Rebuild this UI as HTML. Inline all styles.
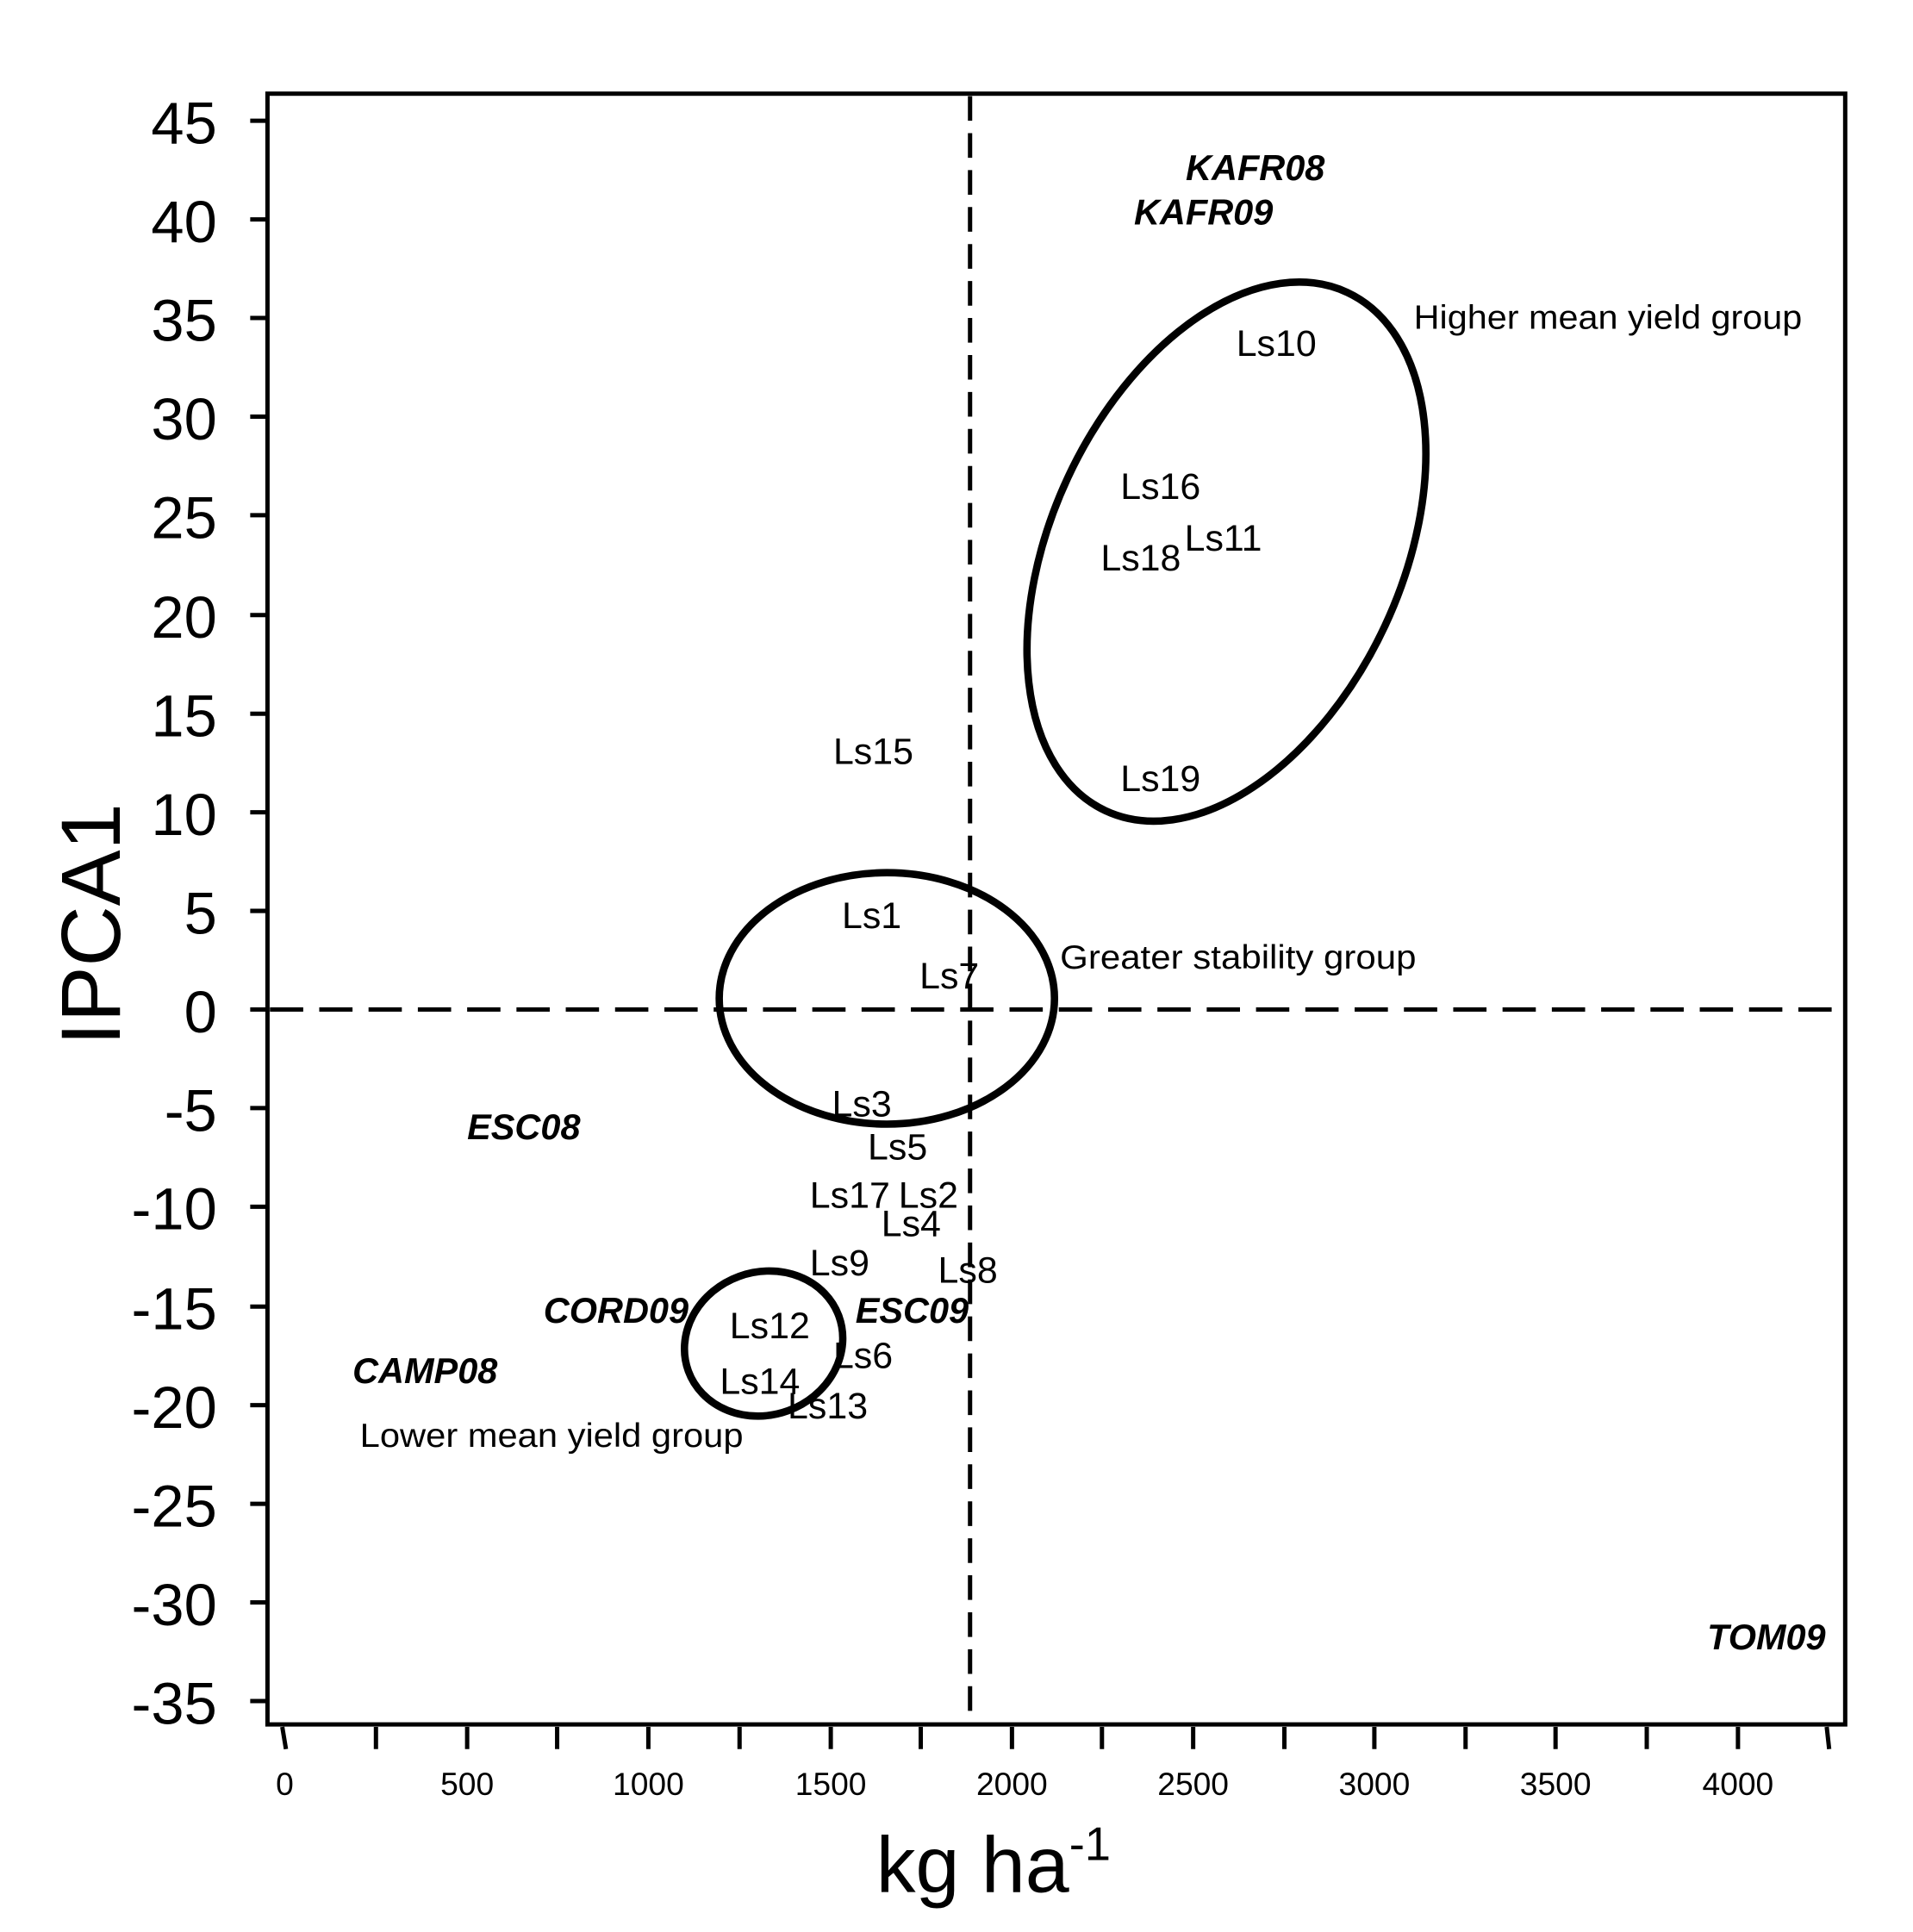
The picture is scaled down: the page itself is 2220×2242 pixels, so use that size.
<!DOCTYPE html>
<html><head><meta charset="utf-8"><style>html,body{margin:0;padding:0;background:#fff}svg{display:block}</style></head>
<body>
<svg width="2220" height="2242" viewBox="0 0 1552 1567.4" preserveAspectRatio="none" xmlns="http://www.w3.org/2000/svg" font-family="Liberation Sans, Arial, sans-serif">
<rect x="0" y="0" width="1552" height="1568" fill="#fff"/>
<rect x="217" y="76" width="1280" height="1323" fill="none" stroke="#000" stroke-width="3.5"/>
<g stroke="#000" stroke-width="3.5">
<line x1="203" y1="98" x2="217" y2="98"/><line x1="203" y1="178" x2="217" y2="178"/>
<line x1="203" y1="258" x2="217" y2="258"/><line x1="203" y1="338" x2="217" y2="338"/>
<line x1="203" y1="418" x2="217" y2="418"/><line x1="203" y1="499" x2="217" y2="499"/>
<line x1="203" y1="579" x2="217" y2="579"/><line x1="203" y1="659" x2="217" y2="659"/>
<line x1="203" y1="739" x2="217" y2="739"/><line x1="203" y1="819" x2="217" y2="819"/>
<line x1="203" y1="899" x2="217" y2="899"/><line x1="203" y1="979" x2="217" y2="979"/>
<line x1="203" y1="1060" x2="217" y2="1060"/><line x1="203" y1="1140" x2="217" y2="1140"/>
<line x1="203" y1="1220" x2="217" y2="1220"/><line x1="203" y1="1300" x2="217" y2="1300"/>
<line x1="203" y1="1380" x2="217" y2="1380"/>
</g>
<g font-size="48" text-anchor="end" dominant-baseline="central">
<text x="176" y="100">45</text><text x="176" y="180">40</text><text x="176" y="260">35</text>
<text x="176" y="340">30</text><text x="176" y="420">25</text><text x="176" y="501">20</text>
<text x="176" y="581">15</text><text x="176" y="661">10</text><text x="176" y="741">5</text>
<text x="176" y="821">0</text><text x="176" y="901">-5</text><text x="176" y="981">-10</text>
<text x="176" y="1062">-15</text><text x="176" y="1142">-20</text><text x="176" y="1222">-25</text>
<text x="176" y="1302">-30</text><text x="176" y="1382">-35</text>
</g>
<g stroke="#000" stroke-width="3.5">
<line x1="229" y1="1401" x2="232" y2="1419"/>
<line x1="305" y1="1401" x2="305" y2="1419"/><line x1="379" y1="1401" x2="379" y2="1419"/>
<line x1="452" y1="1401" x2="452" y2="1419"/><line x1="526" y1="1401" x2="526" y2="1419"/>
<line x1="600" y1="1401" x2="600" y2="1419"/><line x1="674" y1="1401" x2="674" y2="1419"/>
<line x1="747" y1="1401" x2="747" y2="1419"/><line x1="821" y1="1401" x2="821" y2="1419"/>
<line x1="894" y1="1401" x2="894" y2="1419"/><line x1="968" y1="1401" x2="968" y2="1419"/>
<line x1="1042" y1="1401" x2="1042" y2="1419"/><line x1="1115" y1="1401" x2="1115" y2="1419"/>
<line x1="1189" y1="1401" x2="1189" y2="1419"/><line x1="1262" y1="1401" x2="1262" y2="1419"/>
<line x1="1336" y1="1401" x2="1336" y2="1419"/><line x1="1410" y1="1401" x2="1410" y2="1419"/>
<line x1="1482" y1="1401" x2="1484" y2="1419"/>
</g>
<g font-size="26" text-anchor="middle" dominant-baseline="central">
<text x="231" y="1447">0</text><text x="379" y="1447">500</text><text x="526" y="1447">1000</text>
<text x="674" y="1447">1500</text><text x="821" y="1447">2000</text><text x="968" y="1447">2500</text>
<text x="1115" y="1447">3000</text><text x="1262" y="1447">3500</text><text x="1410" y="1447">4000</text>
</g>
<text x="806" y="1535" font-size="64" text-anchor="middle">kg ha<tspan font-size="38" dy="-26">-1</tspan></text>
<text transform="translate(97,750) rotate(-90)" font-size="68" text-anchor="middle">IPCA1</text>
<line x1="787" y1="78" x2="787" y2="1398" stroke="#000" stroke-width="3.5" stroke-dasharray="20,10"/>
<line x1="219" y1="819" x2="1495" y2="819" stroke="#000" stroke-width="3.5" stroke-dasharray="27,13"/>
<g fill="none" stroke="#000" stroke-width="6">
<ellipse cx="0" cy="0" rx="142" ry="232" transform="translate(995,447.5) rotate(25)"/>
<ellipse cx="719.5" cy="810" rx="136" ry="102"/>
<ellipse cx="0" cy="0" rx="65" ry="58" transform="translate(619.5,1090) rotate(-20)"/>
</g>
<g font-size="30" dominant-baseline="central">
<text x="1003" y="279">Ls10</text><text x="909" y="395">Ls16</text><text x="961" y="437">Ls11</text>
<text x="893" y="453">Ls18</text><text x="676" y="610">Ls15</text><text x="909" y="632">Ls19</text>
<text x="683" y="743">Ls1</text><text x="746" y="792">Ls7</text><text x="675" y="896">Ls3</text>
<text x="704" y="931">Ls5</text><text x="657" y="970">Ls17</text><text x="729" y="970">Ls2</text>
<text x="715" y="993">Ls4</text><text x="657" y="1025">Ls9</text><text x="761" y="1031">Ls8</text>
<text x="592" y="1076">Ls12</text><text x="676" y="1100">Ls6</text><text x="584" y="1121">Ls14</text>
<text x="639" y="1141">Ls13</text>
</g>
<g font-size="29" font-weight="bold" font-style="italic" dominant-baseline="central">
<text x="962" y="136">KAFR08</text><text x="920" y="172">KAFR09</text>
<text x="379" y="914">ESC08</text><text x="441" y="1063">CORD09</text>
<text x="694" y="1063">ESC09</text><text x="286" y="1112">CAMP08</text>
<text x="1385" y="1328">TOM09</text>
</g>
<g font-size="27" dominant-baseline="central">
<text x="1147" y="258" textLength="315" lengthAdjust="spacingAndGlyphs">Higher mean  yield group</text>
<text x="860" y="777" textLength="289" lengthAdjust="spacingAndGlyphs">Greater stability group</text>
<text x="292" y="1165" textLength="311" lengthAdjust="spacingAndGlyphs">Lower mean yield group</text>
</g>
</svg>
</body></html>
